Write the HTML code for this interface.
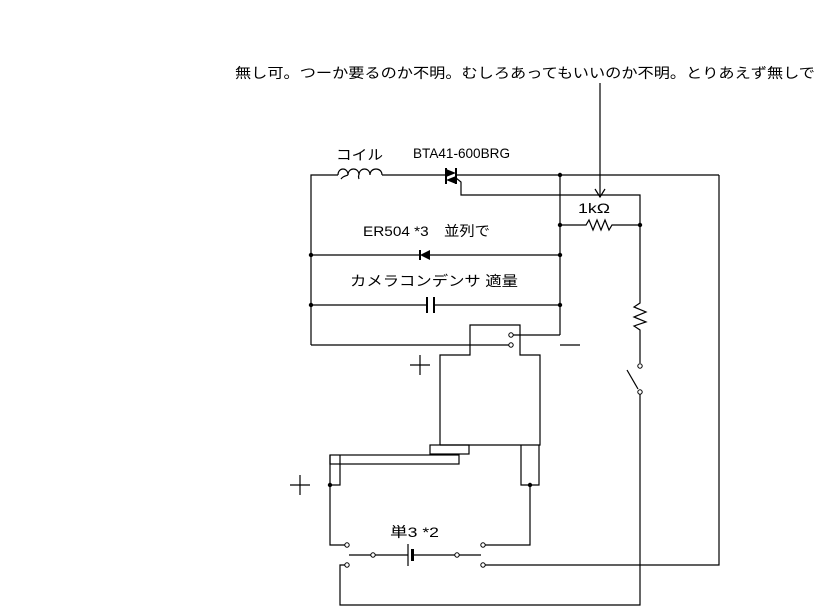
<!DOCTYPE html>
<html><head><meta charset="utf-8"><style>
html,body{margin:0;padding:0;background:#fff;}
svg{display:block;}
text{font-family:"Liberation Sans","Noto Sans CJK JP",sans-serif;font-size:14px;fill:#000;}
</style></head><body>
<svg width="830" height="615" viewBox="0 0 830 615" xmlns="http://www.w3.org/2000/svg">
<g stroke="#000" stroke-width="1.2" fill="none">
<!-- top wire -->
<polyline points="311,345 311,175 338,175"/>
<path d="M338,175 c0,-8 10,-8 10,0 c0,-8 11,-8 11,0 c0,-8 11,-8 11,0 c0,-8 12,-8 12,0"/>
<path d="M341,179 c2,-3 5,-3 7,-4 M359,179 c-1,-3 0,-4 0,-4"/>
<line x1="382" y1="175" x2="445" y2="175"/>
<line x1="457" y1="175" x2="719" y2="175"/>
<polyline points="719,175 719,565 484,565"/>
<!-- gate -->
<polyline points="456,178 461,182 461,195 640,195 640,300"/>
<!-- vertical node bus -->
<line x1="560" y1="175" x2="560" y2="335"/>
<polyline points="560,335 513,335"/>
<polyline points="311,345 509,345"/>
<!-- 1k resistor -->
<polyline points="560,225 586,225 589,220 593,230 597,220 601,230 605,220 609,230 612,225 640,225"/>
<!-- diode row -->
<line x1="311" y1="255" x2="420" y2="255"/>
<line x1="430" y1="255" x2="560" y2="255"/>
<!-- cap row -->
<line x1="311" y1="305" x2="426" y2="305"/>
<line x1="434" y1="305" x2="560" y2="305"/>
<!-- right resistor -->
<polyline points="640,300 640,303 634,307 646,312 634,317 646,322 634,326 640,330 640,363"/>
<line x1="627" y1="370" x2="638" y2="389"/>
<polyline points="640,394 640,605 340,605 340,565 345,565"/>
<!-- minus -->
<line x1="560" y1="345" x2="580" y2="345"/>
<!-- relay -->
<polyline points="440,445 440,355 470,355 470,325 520,325 520,355 540,355 540,445 440,445"/>
<rect x="430" y="445" width="39" height="9"/>
<rect x="330" y="455" width="129" height="9"/>
<polyline points="340,455 340,485 330,485"/>
<polyline points="330,455 330,545 345,545"/>
<polyline points="521,445 521,485 539,485 539,445"/>
<polyline points="530,485 530,545 485,545"/>
<!-- battery line -->
<line x1="349" y1="555" x2="408" y2="555"/>
<line x1="413" y1="555" x2="481" y2="555"/>
<line x1="408" y1="544" x2="408" y2="566"/>
<!-- plus signs -->
<path d="M410,365 h20 M420,355 v20 M290,485 h20 M300,475 v20"/>
<!-- annotation arrow -->
<line x1="600" y1="83" x2="600" y2="197"/>
<path d="M595,189 L600,197 L605,189"/>
</g>
<g fill="#000">
<rect x="411" y="549" width="3" height="12"/>
<rect x="426" y="297" width="2" height="16"/><rect x="433" y="297" width="2" height="16"/>
<polygon points="420,255 430,250 430,260"/><rect x="419" y="250" width="2" height="10"/>
<polygon points="446,169 456,173 446,177"/><polygon points="456,176 446,180 456,184"/>
<rect x="445" y="168" width="2" height="16"/><rect x="455" y="168" width="2" height="16"/>
<circle cx="560" cy="175" r="2.2"/><circle cx="560" cy="225" r="2.2"/><circle cx="640" cy="225" r="2.2"/>
<circle cx="311" cy="255" r="2.2"/><circle cx="560" cy="255" r="2.2"/>
<circle cx="311" cy="305" r="2.2"/><circle cx="560" cy="305" r="2.2"/>
<circle cx="330" cy="485" r="2.2"/><circle cx="530" cy="485" r="2.2"/>
</g>
<g fill="#fff" stroke="#000" stroke-width="1">
<circle cx="511" cy="335" r="2.2"/><circle cx="511" cy="345" r="2.2"/>
<circle cx="640" cy="366" r="2.2"/><circle cx="640" cy="392" r="2.2"/>
<circle cx="347" cy="545" r="2.2"/><circle cx="347" cy="565" r="2.2"/>
<circle cx="373" cy="555" r="2.2"/><circle cx="457" cy="555" r="2.2"/>
<circle cx="483" cy="545" r="2.2"/><circle cx="483" cy="565" r="2.2"/>
</g>
<text x="235" y="78" textLength="580" lengthAdjust="spacingAndGlyphs">無し可。つーか要るのか不明。むしろあってもいいのか不明。とりあえず無しで</text>
<text x="336" y="160" textLength="47" lengthAdjust="spacingAndGlyphs">コイル</text>
<text x="413" y="158" textLength="97" lengthAdjust="spacingAndGlyphs">BTA41-600BRG</text>
<text x="578" y="213" textLength="32" lengthAdjust="spacingAndGlyphs">1kΩ</text>
<text x="363" y="236" textLength="127" lengthAdjust="spacingAndGlyphs">ER504 *3　並列で</text>
<text x="350" y="286" textLength="168" lengthAdjust="spacingAndGlyphs">カメラコンデンサ 適量</text>
<text x="390" y="537" textLength="49" lengthAdjust="spacingAndGlyphs">単3 *2</text>
</svg>
</body></html>
